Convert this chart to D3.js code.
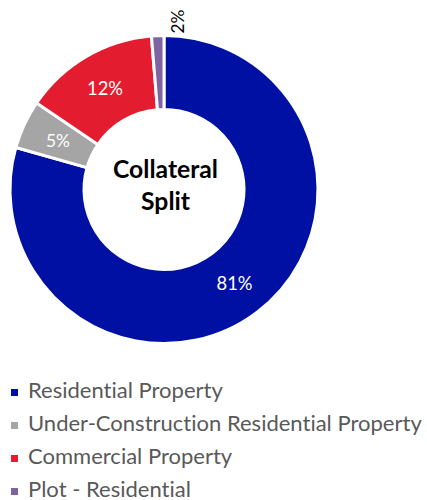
<!DOCTYPE html>
<html><head><meta charset="utf-8">
<script src="https://cdn.jsdelivr.net/npm/d3@7"></script>
<style>html,body{margin:0;padding:0;background:#fff;}svg{display:block;}text{font-variant-ligatures:none;font-feature-settings:"liga" 0;}</style>
</head><body>
<svg id="chart" width="427" height="500"></svg>
<script>
const categories = ["Residential Property", "Under-Construction Residential Property", "Commercial Property", "Plot - Residential"];
const shares = [79.4, 5.1, 14.2, 1.3];
const labels = ["81%", "5%", "12%", "2%"];
const colors = ["#0010A2", "#A5A5A5", "#E31D2F", "#7F63A1"];
const centerTitle = ["Collateral", "Split"];

const FONT = "Lato, 'Open Sans', sans-serif";
const svg = d3.select("#chart");
const cx = 164, cy = 189.5, R = 154, r = 80;

const data = categories.map((c, i) => ({cat: c, v: shares[i], label: labels[i], color: colors[i]}));
const pie = d3.pie().sort(null).value(d => d.v);
const arc = d3.arc().innerRadius(r).outerRadius(R);
const arcs = pie(data);

const g = svg.append("g").attr("transform", `translate(${cx},${cy})`);
g.selectAll("path").data(arcs).join("path")
  .attr("d", arc).attr("fill", d => d.data.color)
  .attr("stroke", "#fff").attr("stroke-width", 3).attr("stroke-linejoin", "miter");

function fit(sel, target) {
  const w = sel.node().getComputedTextLength();
  const fs = parseFloat(sel.attr("font-size"));
  sel.attr("font-size", fs * target / w);
}

// inside labels
arcs.forEach((d, i) => {
  if (i === 3) return;
  const [x, y] = arc.centroid(d);
  const t = g.append("text").attr("x", x).attr("y", y)
    .attr("text-anchor", "middle").attr("dominant-baseline", "central")
    .attr("font-family", FONT).attr("font-size", 18).attr("fill", "#fff")
    .text(d.data.label);
  fit(t, d.data.label.length === 3 ? 36 : 24);
});
// small slice label, rotated, outside
{
  const d = arcs[3];
  const t = g.append("text")
    .attr("transform", `translate(${13},${-R - 14}) rotate(-90)`)
    .attr("text-anchor", "middle").attr("dominant-baseline", "central")
    .attr("font-family", FONT).attr("font-size", 18).attr("fill", "#000")
    .text(d.data.label);
  fit(t, 24);
}

// center title
const ct = centerTitle.map((s, i) => g.append("text")
  .attr("x", 1.5).attr("y", i === 0 ? -11.5 : 20.5)
  .attr("text-anchor", "middle")
  .attr("font-family", FONT).attr("font-weight", "bold").attr("font-size", 24).attr("fill", "#000")
  .text(s));
fit(ct[0], 105);
ct[1].attr("font-size", ct[0].attr("font-size"));

// legend
const leg = svg.append("g");
const baseY = 398, step = 33;
const items = leg.selectAll("g").data(data).join("g")
  .attr("transform", (d, i) => `translate(0,${baseY + i * step})`);
items.append("rect").attr("x", 11).attr("y", -9).attr("width", 7).attr("height", 7)
  .attr("fill", d => d.color);
const texts = items.append("text").attr("x", 28).attr("y", 0)
  .attr("font-family", FONT).attr("font-size", 20).attr("fill", "#595959")
  .text(d => d.cat);
const longest = texts.nodes()[1];
const w = longest.getComputedTextLength();
texts.attr("font-size", 20 * 394 / w);
</script>
</body></html>
